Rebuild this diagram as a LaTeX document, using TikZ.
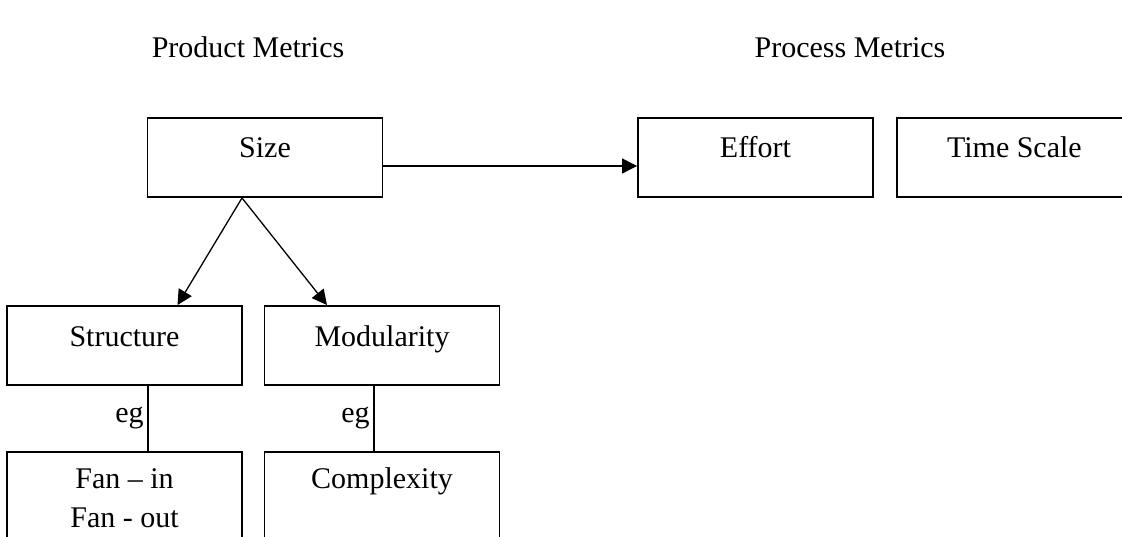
\documentclass[tikz,border=0pt]{standalone}
\usepackage{fontspec}
\setmainfont{Liberation Serif}
\usetikzlibrary{arrows.meta,positioning}

\begin{document}
\begin{tikzpicture}[x=1pt, y=-1pt,
  metric/.style={draw, line width=1.9pt, minimum width=235pt, inner sep=0pt, text height=40pt, text depth=39pt, align=center, font=\fontsize{30}{39}\selectfont},
  heading/.style={anchor=base, font=\fontsize{30}{39}\selectfont},
  arrow/.style={-{Triangle[length=15pt, width=15pt]}, line width=1.3pt},
  link/.style={line width=1.9pt},
  eglabel/.style={left, font=\fontsize{30}{39}\selectfont},
]
\useasboundingbox (0,0) rectangle (1122,537);
\clip (0,0) rectangle (1122,537);
% headings
\node[heading] (prod) at (248,58) {Product Metrics};
\node[heading] (proc) at (850,58) {Process Metrics};
% top row
\node[metric] (size) at (265,157.5) {Size};
\node[metric] (effort) at (755.5,157.5) {Effort};
\node[metric, right=22pt of effort] (time) {Time Scale};
% second row
\node[metric] (struct) at (124.5,345.5) {Structure};
\node[metric] (modul) at (382,345.5) {Modularity};
% examples
\node[metric, text height=75pt, text depth=31pt] (fan) at (124.5,505) {Fan -- in\\Fan - out};
\node[metric, text height=36pt, text depth=70pt] (compl) at (382,505) {Complexity};
\draw[arrow] ([yshift=-8.5pt]size.east) -- ([yshift=-8.5pt]effort.west);
\draw[arrow] ([xshift=-23pt]size.south) -- ([xshift=53pt]struct.north);
\draw[arrow] ([xshift=-23pt]size.south) -- ([xshift=-55pt]modul.north);
\draw[link] ([xshift=23.5pt]struct.south) -- node[eglabel] {eg} ([xshift=23.5pt]fan.north);
\draw[link] ([xshift=-8pt]modul.south) -- node[eglabel] {eg} ([xshift=-8pt]compl.north);
\end{tikzpicture}
\end{document}
